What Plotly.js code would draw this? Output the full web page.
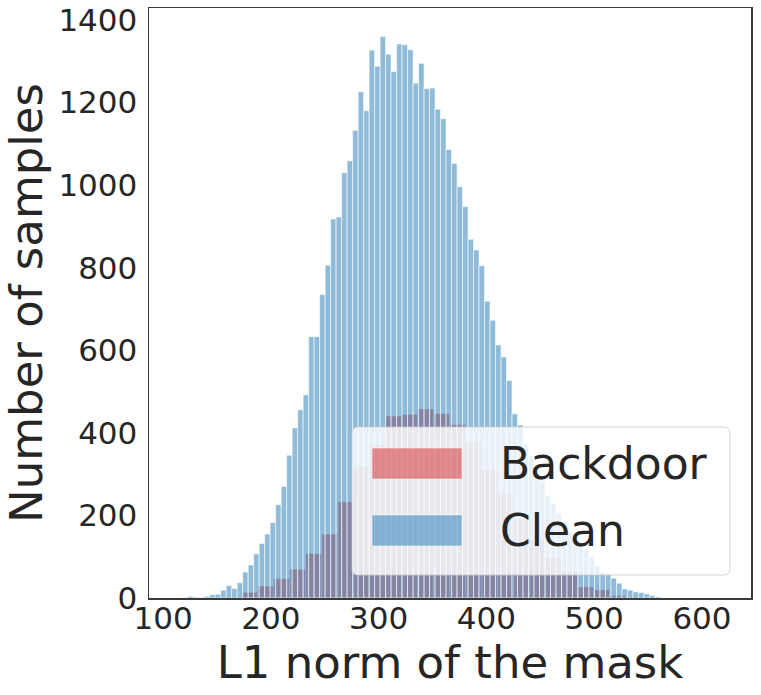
<!DOCTYPE html>
<html>
<head>
<meta charset="utf-8">
<script src="https://cdn.plot.ly/plotly-3.0.1.min.js"></script>
<style>
  html, body { margin: 0; padding: 0; background: #ffffff; }
  #chart { width: 761px; height: 695px; }
</style>
</head>
<body>
<div id="chart"></div>
<script>
// ---- data ----
const seriesNames = ["Backdoor", "Clean"];

// Clean: histogram bins (L1 norm of the mask)
const cleanBinStart = 117.8;
const cleanBinWidth = 5.10;
const cleanCounts = [
  1, 4, 2, 1, 4, 8, 9, 19, 30, 23,
  37, 63, 80, 107, 132, 155, 183, 226, 270, 346,
  412, 456, 492, 633, 633, 735, 806, 918, 923, 1030,
  1059, 1133, 1226, 1180, 1327, 1288, 1360, 1317, 1275, 1342,
  1340, 1328, 1247, 1295, 1234, 1235, 1184, 1161, 1086, 1053,
  996, 948, 869, 843, 805, 719, 673, 613, 584, 527,
  446, 419, 373, 345, 320, 285, 249, 230, 205, 185,
  160, 140, 124, 116, 100, 78, 62, 58, 48, 36,
  22, 19, 15, 13, 10, 6, 3
];

// Backdoor: histogram bins
const backdoorBinStart = 158.2;
const backdoorBinWidth = 14.84;
const backdoorCounts = [
  2, 14, 29, 47, 70, 108, 155, 233, 318, 372,
  441, 445, 458, 447, 420, 378, 312, 250, 192, 142,
  98, 64, 27, 20, 6, 2
];

const xTicks = [100, 200, 300, 400, 500, 600];
const yTicks = [0, 200, 400, 600, 800, 1000, 1200, 1400];
const xTitle = "L1 norm of the mask";
const yTitle = "Number of samples";

// ---- build traces ----
function centers(start, width, n) {
  const out = [];
  for (let i = 0; i < n; i++) out.push(start + width * (i + 0.5));
  return out;
}

const FONT = "DejaVu Sans, Liberation Sans, sans-serif";
const TXT = "#262626";
const RED = "rgba(214,39,40,0.5)";
const BLUE = "rgba(31,119,180,0.5)";

const traces = [
  {
    type: "bar",
    name: seriesNames[0],
    x: centers(backdoorBinStart, backdoorBinWidth, backdoorCounts.length),
    y: backdoorCounts,
    width: backdoorBinWidth,
    marker: { color: RED, line: { color: "rgba(255,255,255,0.6)", width: 1 } },
    hoverinfo: "x+y",
    showlegend: false
  },
  {
    type: "bar",
    name: seriesNames[1],
    x: centers(cleanBinStart, cleanBinWidth, cleanCounts.length),
    y: cleanCounts,
    width: cleanBinWidth,
    marker: { color: BLUE, line: { color: "rgba(255,255,255,0.6)", width: 1 } },
    hoverinfo: "x+y",
    showlegend: false
  }
];

// ---- custom legend (large patches like the reference) ----
const W = 761, H = 695;
const M = { l: 149, r: 10, t: 8, b: 97 };
const PW = W - M.l - M.r, PH = H - M.t - M.b;
const px = v => (v - M.l) / PW;
const py = v => (H - M.b - v) / PH;

function roundedRect(x0, y0, x1, y1, r) {
  const rx = r / PW, ry = r / PH;
  const X0 = px(x0), X1 = px(x1), Y0 = py(y0), Y1 = py(y1); // Y0 top, Y1 bottom
  return `M ${X0 + rx},${Y0} L ${X1 - rx},${Y0} Q ${X1},${Y0} ${X1},${Y0 - ry} ` +
         `L ${X1},${Y1 + ry} Q ${X1},${Y1} ${X1 - rx},${Y1} ` +
         `L ${X0 + rx},${Y1} Q ${X0},${Y1} ${X0},${Y1 + ry} ` +
         `L ${X0},${Y0 - ry} Q ${X0},${Y0} ${X0 + rx},${Y0} Z`;
}

const shapes = [
  {
    type: "path", xref: "paper", yref: "paper", layer: "above",
    path: roundedRect(352, 427, 730, 575, 6),
    fillcolor: "rgba(255,255,255,0.8)",
    line: { color: "rgba(204,204,204,0.8)", width: 1 }
  },
  {
    type: "rect", xref: "paper", yref: "paper", layer: "above",
    x0: px(372), x1: px(462), y0: py(479), y1: py(448),
    fillcolor: RED, line: { color: "rgba(255,255,255,0.5)", width: 1 }
  },
  {
    type: "rect", xref: "paper", yref: "paper", layer: "above",
    x0: px(372), x1: px(462), y0: py(546), y1: py(515),
    fillcolor: BLUE, line: { color: "rgba(255,255,255,0.5)", width: 1 }
  }
];

const annotations = [
  {
    xref: "paper", yref: "paper", x: px(498), y: py(463.5),
    xanchor: "left", yanchor: "middle", showarrow: false,
    text: seriesNames[0], font: { family: FONT, size: 44, color: TXT }
  },
  {
    xref: "paper", yref: "paper", x: px(498), y: py(530.5),
    xanchor: "left", yanchor: "middle", showarrow: false,
    text: seriesNames[1], font: { family: FONT, size: 44, color: TXT }
  }
];

const layout = {
  width: W, height: H,
  margin: M,
  paper_bgcolor: "#ffffff",
  plot_bgcolor: "#ffffff",
  barmode: "overlay",
  bargap: 0,
  showlegend: false,
  font: { family: FONT, color: TXT },
  xaxis: {
    range: [87, 645.5],
    tickvals: xTicks,
    ticktext: xTicks.map(String),
    ticks: "",
    showgrid: false, zeroline: false,
    showline: true, mirror: true, linecolor: "#3a3a3a", linewidth: 1.5,
    tickfont: { family: FONT, size: 31, color: TXT },
    ticklabelstandoff: -8,
    title: { text: xTitle, font: { family: FONT, size: 45, color: TXT }, standoff: 10 },
    automargin: false
  },
  yaxis: {
    range: [0, 1429],
    tickvals: yTicks,
    ticktext: yTicks.map(String),
    ticks: "",
    showgrid: false, zeroline: false,
    showline: true, mirror: true, linecolor: "#3a3a3a", linewidth: 1.5,
    tickfont: { family: FONT, size: 31, color: TXT },
    ticklabelstandoff: 4,
    title: { text: yTitle, font: { family: FONT, size: 45, color: TXT }, standoff: 8 },
    automargin: false
  },
  shapes: shapes,
  annotations: annotations
};

Plotly.newPlot("chart", traces, layout, { displayModeBar: false, staticPlot: true });
</script>
</body>
</html>
